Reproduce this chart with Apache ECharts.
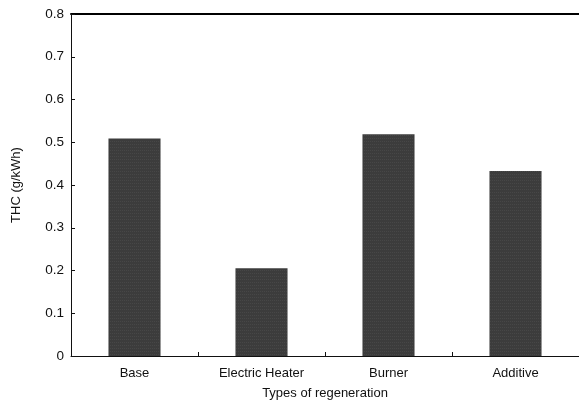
<!DOCTYPE html>
<html><head><meta charset="utf-8">
<script src="https://cdn.jsdelivr.net/npm/echarts@6/dist/echarts.min.js"></script>
<style>html,body{margin:0;padding:0;background:#fff}#c{width:579px;height:403px}</style>
</head><body><div id="c"></div>
<script>
const categories = ['Base', 'Electric Heater', 'Burner', 'Additive'];
const thcValues = [0.509, 0.205, 0.519, 0.433];
const yTicks = [0, 0.1, 0.2, 0.3, 0.4, 0.5, 0.6, 0.7, 0.8];

const chart = echarts.init(document.getElementById('c'), null, {renderer: 'canvas'});
const font = 'Liberation Sans, Arial, sans-serif';
chart.setOption({
  animation: false,
  backgroundColor: '#fff',
  grid: {left: 71, right: 0, top: 14, bottom: 47, containLabel: false, outerBoundsMode: 'none'},
  xAxis: [{
    type: 'category',
    data: categories,
    position: 'bottom',
    name: 'Types of regeneration',
    nameLocation: 'middle',
    nameGap: 31,
    nameTextStyle: {fontFamily: font, fontSize: 13, color: '#111'},
    axisLine: {lineStyle: {color: '#111', width: 1}},
    axisTick: {show: true, inside: true, length: 4, alignWithLabel: false, lineStyle: {color: '#111'}},
    axisLabel: {fontFamily: font, fontSize: 13, color: '#111', margin: 11}
  }, {
    type: 'category',
    data: categories,
    position: 'top',
    axisLine: {lineStyle: {color: '#000', width: 2}},
    axisTick: {show: false},
    axisLabel: {show: false}
  }],
  yAxis: {
    type: 'value',
    min: yTicks[0],
    max: yTicks[yTicks.length - 1],
    interval: 0.1,
    name: 'THC (g/kWh)',
    nameLocation: 'middle',
    nameGap: 48,
    nameTextStyle: {fontFamily: font, fontSize: 13, color: '#111'},
    axisLine: {show: true, lineStyle: {color: '#111', width: 1}},
    axisTick: {show: true, inside: true, length: 4, lineStyle: {color: '#111'}},
    axisLabel: {fontFamily: font, fontSize: 13.5, color: '#111', margin: 7,
      formatter: v => (Math.round(v * 10) / 10).toString()},
    splitLine: {show: false}
  },
  series: [{
    type: 'bar',
    data: thcValues,
    barWidth: '41%',
    itemStyle: {
      color: '#3c3c3c',
      decal: {symbol: 'rect', symbolSize: 0.5, dashArrayX: [1, 1], dashArrayY: [1, 2], color: 'rgba(200,200,200,0.35)', rotation: 0}
    }
  }]
});
</script></body></html>
